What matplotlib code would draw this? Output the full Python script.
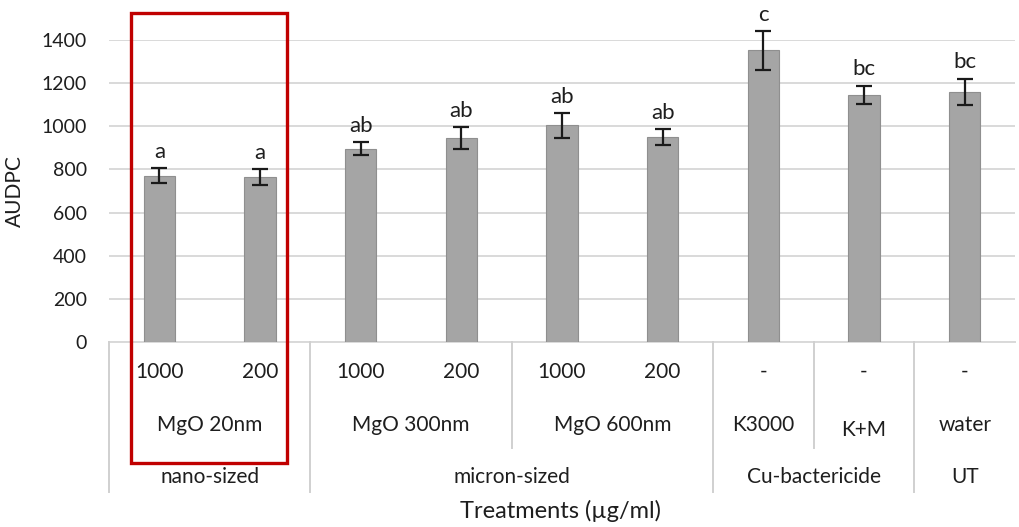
import matplotlib
matplotlib.use("Agg")
import matplotlib.pyplot as plt
from matplotlib.patches import Rectangle
from matplotlib.lines import Line2D
import matplotlib.transforms as mtransforms

plt.rcParams['font.family'] = ['Lato', 'DejaVu Sans']

# ---- data ----
concentrations = ['1000', '200', '1000', '200', '1000', '200', '-', '-', '-']
products = ['MgO 20nm', 'MgO 300nm', 'MgO 600nm', 'K3000', 'K+M', 'water']
product_sizes = [2, 2, 2, 1, 1, 1]
classes = ['nano-sized', 'micron-sized', 'Cu-bactericide', 'UT']
class_sizes = [2, 4, 2, 1]
audpc = [770, 765, 897, 945, 1004, 950, 1352, 1146, 1160]
errors = [35, 37, 30, 52, 56, 36, 90, 42, 60]
letters = ['a', 'a', 'ab', 'ab', 'ab', 'ab', 'c', 'bc', 'bc']
yticks = [0, 200, 400, 600, 800, 1000, 1200, 1400]

W, H = 1019, 527
TXT = '#1e1e1e'
fig = plt.figure(figsize=(W / 100, H / 100), dpi=100)
ax = fig.add_axes([109 / W, 1 - 342 / H, (1015 - 109) / W, (342 - 40) / H])

x = list(range(len(audpc)))
ax.bar(x, audpc, width=0.31, color='#a5a5a5', edgecolor='#8f8f8f', linewidth=0.8, zorder=3)
ax.errorbar(x, audpc, yerr=errors, fmt='none', ecolor='#1a1a1a', elinewidth=1.6,
            capsize=5.5, capthick=1.6, zorder=4, clip_on=False)
for xi, v, e, l in zip(x, audpc, errors, letters):
    ax.annotate(l, (xi, v + e), xytext=(0, 7.5), textcoords='offset points',
                ha='center', va='baseline', fontsize=16, color=TXT,
                annotation_clip=False)

ax.set_xlim(-0.5, len(audpc) - 0.5)
ax.set_ylim(0, 1400)
ax.set_yticks(yticks)
ax.set_yticklabels([str(t) for t in yticks], fontsize=14, color=TXT)
ax.tick_params(axis='y', length=0, pad=16)
ax.set_xticks([])
ax.yaxis.grid(True, color='#d9d9d9', linewidth=1.4, zorder=0)
for s in ['top', 'right', 'left']:
    ax.spines[s].set_visible(False)
ax.spines['bottom'].set_color('#d9d9d9')
ax.spines['bottom'].set_linewidth(1.4)

ax.set_ylabel('AUDPC', fontsize=15, color=TXT, labelpad=12)

# ---- multi-level category axis ----
trans = mtransforms.blended_transform_factory(ax.transData, fig.transFigure)
def fy(py):
    return 1 - py / H

sep_col = '#d0d0d0'
for xi, c in zip(x, concentrations):
    ax.text(xi, fy(372), c, transform=trans, ha='center', va='center',
            fontsize=15, color=TXT)

start = 0
for p, n in zip(products, product_sizes):
    yoff = 430 if p == 'K+M' else 425
    ax.text(start + (n - 1) / 2, fy(yoff), p, transform=trans, ha='center',
            va='center', fontsize=15, color=TXT)
    start += n

start = 0
for c, n in zip(classes, class_sizes):
    ax.text(start + (n - 1) / 2, fy(477), c, transform=trans, ha='center',
            va='center', fontsize=15, color=TXT)
    start += n

# separators
class_bounds = set()
s = 0
for n in class_sizes:
    class_bounds.add(s - 0.5)
    s += n
prod_bounds = set()
s = 0
for n in product_sizes:
    prod_bounds.add(s - 0.5)
    s += n
for b in sorted(prod_bounds | class_bounds):
    bottom = 492 if b in class_bounds else 448
    ln = Line2D([b, b], [fy(342), fy(bottom)], transform=trans, color=sep_col,
                linewidth=1.4, clip_on=False)
    fig.add_artist(ln)

fig.text(561 / W, fy(511), 'Treatments (µg/ml)', ha='center', va='center',
         fontsize=17, color=TXT)

# red highlight box
rect = Rectangle((131 / W, fy(463)), (287 - 131) / W, (463 - 13) / H,
                 transform=fig.transFigure, fill=False, edgecolor='#c00000',
                 linewidth=2.4, zorder=10)
fig.add_artist(rect)

fig.savefig('out.png', dpi=100)
